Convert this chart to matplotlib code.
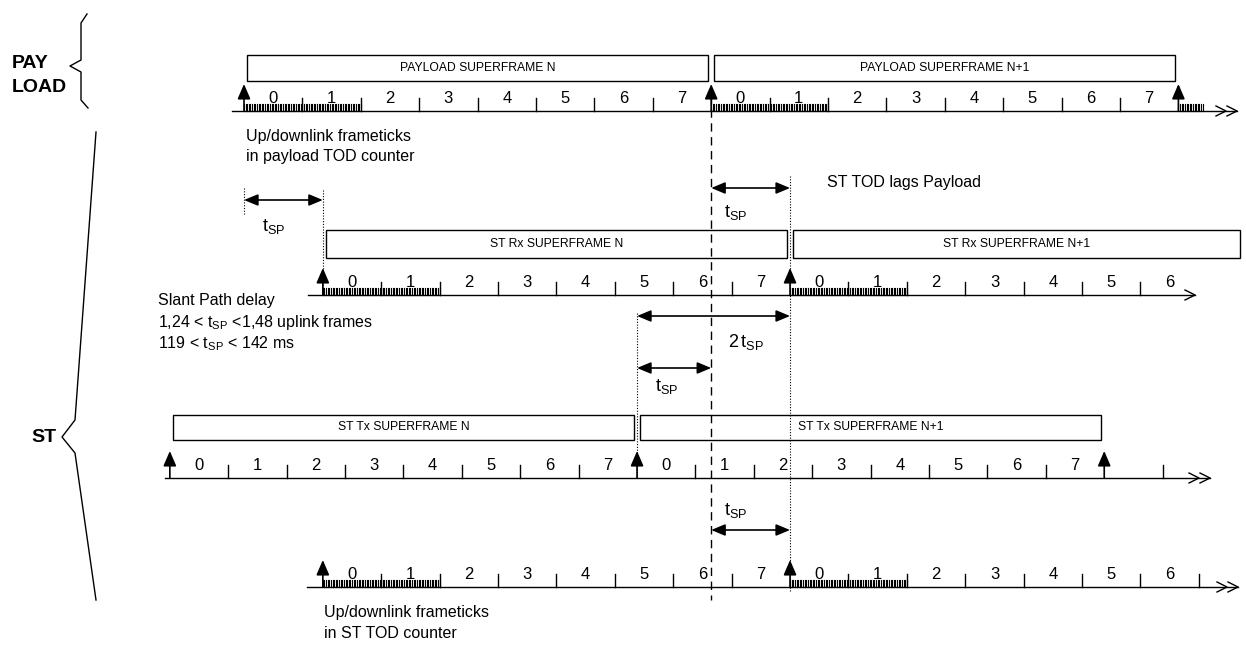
import matplotlib
matplotlib.use("Agg")
import matplotlib.pyplot as plt
from matplotlib.patches import Rectangle

plt.rcParams['font.family'] = ['Liberation Sans', 'DejaVu Sans']
plt.rcParams['mathtext.fontset'] = 'custom'
plt.rcParams['mathtext.rm'] = 'Liberation Sans'
plt.rcParams['mathtext.it'] = 'Liberation Sans'

# timing values, in uplink frames (payload frame 0 = 0)
T_SP = 1.35          # slant path delay
TX_ADVANCE = -1.27   # ST Tx superframe start relative to payload
FRAMETICKS_PER_FRAME = 36

payload_labels = [str(i) for i in range(8)] * 2
rx_labels = [str(i) for i in range(8)] + [str(i) for i in range(7)]
tx_labels = [str(i) for i in range(8)] * 2
tod_labels = [str(i) for i in range(8)] + [str(i) for i in range(7)]

payload_boxes = ['PAYLOAD SUPERFRAME N', 'PAYLOAD SUPERFRAME N+1']
rx_boxes = ['ST Rx SUPERFRAME N', 'ST Rx SUPERFRAME N+1']
tx_boxes = ['ST Tx SUPERFRAME N', 'ST Tx SUPERFRAME N+1']

# layout (pixels)
X0, FW = 244, 58.4


def px(f):
    return X0 + f * FW


fig = plt.figure(figsize=(12.46, 6.49), dpi=100)
ax = fig.add_axes([0, 0, 1, 1])
ax.set_xlim(0, 1246)
ax.set_ylim(649, 0)
ax.axis('off')

LW = 1.0
TXT = 11.5


def chevrons(xe, y, n):
    for k in range(n):
        x = xe - k * 11
        ax.plot([x - 10, x, x - 10], [y - 5, y, y + 5], color='k', lw=LW)


def up_arrow(x, y):
    ax.annotate('', xy=(x, y - 27), xytext=(x, y),
                arrowprops=dict(arrowstyle='-|>,head_length=0.65,head_width=0.28',
                                mutation_scale=14, color='k', lw=1.2,
                                shrinkA=0, shrinkB=0))


def timeline(y, start, labels, x_begin, x_end, n_chev, arrows, ticks, fine):
    ax.plot([x_begin, x_end], [y, y], color='k', lw=LW)
    chevrons(x_end, y, n_chev)
    for a in arrows:
        up_arrow(px(start + a), y)
    for t in ticks:
        x = px(start + t)
        ax.plot([x, x], [y, y - 13], color='k', lw=LW)
    for i, lab in enumerate(labels):
        ax.text(px(start + i + 0.5), y - 8, lab, ha='center', va='baseline', fontsize=12)
    for a, b in fine:
        n = int(round((b - a) * FRAMETICKS_PER_FRAME))
        for k in range(n + 1):
            x = px(start + a) + k * FW / FRAMETICKS_PER_FRAME
            ax.plot([x, x], [y, y - 7], color='k', lw=0.8)


def boxes(start, names, top, h, clip=None):
    for i, name in enumerate(names):
        x1 = px(start + 8 * i) + 3
        x2 = px(start + 8 * (i + 1)) - 3
        if clip is not None:
            x2 = min(x2, clip)
        ax.add_patch(Rectangle((x1, top), x2 - x1, h, fill=False, ec='k', lw=LW))
        ax.text((x1 + x2) / 2, top + h / 2, name, ha='center', va='center', fontsize=8.7)


# payload
boxes(0, payload_boxes, 55, 26)
timeline(111, 0, payload_labels, 232, 1237, 2, [0, 8, 16],
         [t for t in range(1, 16) if t != 8], [(0, 2), (8, 10), (16, 16.42)])
# ST Rx
boxes(T_SP, rx_boxes, 230, 28, clip=1240)
timeline(295, T_SP, rx_labels, 308, 1195, 1, [0, 8],
         [t for t in range(1, 15) if t != 8], [(0, 2), (8, 10)])
# ST Tx
boxes(TX_ADVANCE, tx_boxes, 415, 25)
timeline(478, TX_ADVANCE, tx_labels, 165, 1210, 2, [0, 8, 16],
         [t for t in range(1, 18) if t not in (8, 16)], [])
# ST TOD
timeline(587, T_SP, tod_labels, 307, 1238, 2, [0, 8],
         [t for t in range(1, 16) if t != 8], [(0, 2), (8, 10)])

# reference lines
ax.plot([px(8), px(8)], [95, 600], color='k', lw=LW, ls=(0, (6, 4)))
for x, y1, y2 in [(px(0), 188, 214), (px(T_SP), 190, 292),
                  (px(8 + T_SP), 176, 592), (px(8 + TX_ADVANCE), 313, 478)]:
    ax.plot([x, x], [y1, y2], color='k', lw=0.8, ls=(0, (1, 1.5)))


def span(x1, x2, y):
    ax.annotate('', xy=(x2, y), xytext=(x1, y),
                arrowprops=dict(arrowstyle='<|-|>,head_length=0.6,head_width=0.25',
                                mutation_scale=14, color='k', lw=1.2,
                                shrinkA=0, shrinkB=0))


TSP = r'$\mathrm{t_{SP}}$'
span(px(0), px(T_SP), 200)
ax.text(262, 227, TSP, fontsize=13, va='center')
span(px(8), px(8 + T_SP), 188)
ax.text(724, 212, TSP, fontsize=13, va='center')
span(px(8 + TX_ADVANCE), px(8 + T_SP), 316)
ax.text(728, 342, r'$\mathrm{2\,t_{SP}}$', fontsize=13, va='center')
span(px(8 + TX_ADVANCE), px(8), 368)
ax.text(655, 387, TSP, fontsize=13, va='center')
span(px(8), px(8 + T_SP), 530)
ax.text(724, 510, TSP, fontsize=13, va='center')

# texts
ax.text(827, 182, 'ST TOD lags Payload', fontsize=TXT, va='center')
ax.text(246, 136, 'Up/downlink frameticks', fontsize=TXT, va='center')
ax.text(246, 157, 'in payload TOD counter', fontsize=TXT, va='center')
ax.text(158, 300, 'Slant Path delay', fontsize=TXT, va='center')
ax.text(158, 322, r'1,24 < $\mathrm{t_{SP}}$ <1,48 uplink frames', fontsize=TXT, va='center')
ax.text(158, 344, r'119 < $\mathrm{t_{SP}}$ < 142 ms', fontsize=TXT, va='center')
ax.text(324, 613, 'Up/downlink frameticks', fontsize=TXT, va='center')
ax.text(324, 634, 'in ST TOD counter', fontsize=TXT, va='center')

# group braces
ax.plot([87, 81, 81, 70, 81, 81, 88], [14, 23, 60, 66, 72, 100, 108], color='k', lw=LW)
ax.plot([96, 75, 62, 75, 96], [132, 420, 437, 453, 600], color='k', lw=LW)
ax.text(12, 64, 'PAY', fontsize=14, fontweight='bold', va='center')
ax.text(12, 88, 'LOAD', fontsize=14, fontweight='bold', va='center')
ax.text(31, 438, 'ST', fontsize=14, fontweight='bold', va='center')

fig.savefig('out.png', dpi=100)
